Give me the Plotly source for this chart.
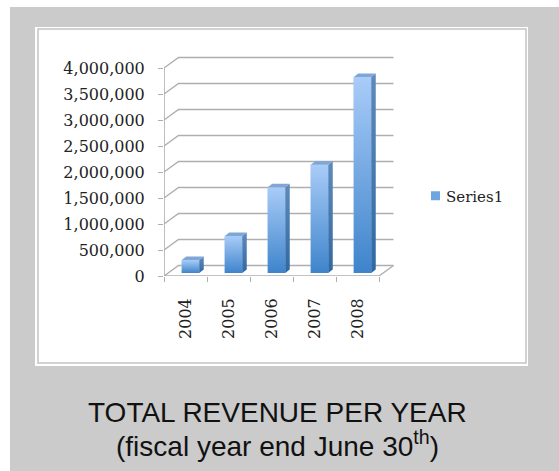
import plotly.graph_objects as go

years = ["2004", "2005", "2006", "2007", "2008"]
revenue = [250000, 711000, 1650000, 2080000, 3770000]
y_ticks = [0, 500000, 1000000, 1500000, 2000000, 2500000, 3000000, 3500000, 4000000]
y_labels = ["0", "500,000", "1,000,000", "1,500,000", "2,000,000", "2,500,000", "3,000,000", "3,500,000", "4,000,000"]
series_name = "Series1"

W, H = 559, 471
X0, X1 = 164, 379          # front floor edge, px
Y0, Y4 = 276, 68           # value 0 and 4M, px
RIGHT, TOP = 400, 50       # plot-area limits, px
n = len(years)
px_x = (X1 - X0) / n       # px per category
px_y = (Y0 - Y4) / y_ticks[-1]  # px per value
dx = lambda p: p / px_x
dy = lambda p: p / px_y

GRID = "#aeaeae"
TEXT = "#222222"
wall_dx, wall_dy = dx(14.5), dy(10.5)
left = -0.5
right = n - 0.5

fig = go.Figure()

# wall gridlines and floor, built from the axis ticks
gx, gy = [], []
for v in y_ticks:
    gx += [left, left + wall_dx, right + wall_dx, None]
    gy += [v, v + wall_dy, v + wall_dy, None]
gx += [left, right, right + wall_dx, None]
gy += [0, 0, wall_dy, None]
fig.add_trace(go.Scatter(x=gx, y=gy, mode="lines", line=dict(color=GRID, width=1.4),
                         hoverinfo="skip", showlegend=False))
# y axis line
fig.add_trace(go.Scatter(x=[left, left], y=[0, y_ticks[-1]], mode="lines",
                         line=dict(color=GRID, width=1.6), hoverinfo="skip", showlegend=False))

bar_w = dx(17.5)
shift_x = dx(5)
base_v = dy(3)
side_dx, side_dy = dx(4.5), dy(3.5)

# the bars themselves
fig.add_trace(go.Bar(x=list(range(n)), y=revenue, base=base_v, width=bar_w, offset=shift_x - bar_w / 2,
                     marker=dict(color="#6fa6e2", line=dict(width=0)), name=series_name, showlegend=True,
                     hoverinfo="skip"))

def poly(xs, ys, c_top, c_bot):
    fig.add_trace(go.Scatter(x=xs + xs[:1], y=ys + ys[:1], mode="lines", fill="toself",
                             line=dict(width=0), hoverinfo="skip", showlegend=False,
                             fillgradient=dict(type="vertical",
                                               colorscale=[[0, c_bot], [1, c_top]])))

for i, v in enumerate(revenue):
    xl = i + shift_x - bar_w / 2
    xr = xl + bar_w
    top = v + base_v
    poly([xl, xr, xr, xl], [base_v, base_v, top, top], "#a9ccf8", "#3e84cb")
    poly([xr, xr + side_dx, xr + side_dx, xr], [base_v, base_v + side_dy, top + side_dy, top], "#5f8abb", "#2f68a3")
    poly([xl, xr, xr + side_dx, xl + side_dx], [top, top, top + side_dy, top + side_dy], "#7fa6d4", "#7fa6d4")

fig.update_layout(
    width=W, height=H, margin=dict(l=0, r=0, t=0, b=0), autosize=False,
    paper_bgcolor="white", plot_bgcolor="rgba(0,0,0,0)",
    barmode="overlay",
    font=dict(family="DejaVu Serif", color=TEXT),
    xaxis=dict(domain=[X0 / W, RIGHT / W], range=[left, left + (RIGHT - X0) / px_x], automargin=False,
               tickmode="array", tickvals=list(range(n)), ticktext=years, tickangle=-90,
               ticks="", showgrid=False, zeroline=False, showline=False, ticklabelstandoff=18,
               tickfont=dict(size=16, family="DejaVu Serif", color=TEXT),
               minor=dict(tickmode="array", tickvals=[i - 0.5 for i in range(n + 1)], ticks="outside",
                          ticklen=5, tickwidth=1.4, tickcolor=GRID, showgrid=False)),
    yaxis=dict(domain=[1 - Y0 / H, 1 - TOP / H], range=[0, (Y0 - TOP) / px_y], automargin=False,
               tickmode="array", tickvals=y_ticks, ticktext=y_labels,
               ticks="outside", ticklen=5, tickwidth=1.4, tickcolor=GRID,
               showgrid=False, zeroline=False, showline=False, ticklabelstandoff=10,
               tickfont=dict(size=16, family="DejaVu Serif", color=TEXT)),
    legend=dict(x=406 / W, y=1 - 196 / H, xanchor="left", yanchor="middle",
                bgcolor="rgba(0,0,0,0)", font=dict(size=15, family="DejaVu Serif", color=TEXT),
                itemwidth=30),
    shapes=[
        dict(type="rect", xref="paper", yref="paper", x0=10 / W, x1=1, y0=0, y1=1 - 7 / H,
             fillcolor="#cbcbcb", line=dict(width=0), layer="below"),
        dict(type="rect", xref="paper", yref="paper", x0=35 / W, x1=528 / W, y0=1 - 366 / H, y1=1 - 27 / H,
             fillcolor="white", line=dict(width=0), layer="below"),
        dict(type="rect", xref="paper", yref="paper", x0=38 / W, x1=526 / W, y0=1 - 363 / H, y1=1 - 29 / H,
             fillcolor="white", line=dict(color="#c4c4c4", width=1.5), layer="below"),
    ],
    annotations=[
        dict(text="TOTAL REVENUE PER YEAR", xref="paper", yref="paper", x=277 / W, y=1 - 412 / H,
             xanchor="center", yanchor="middle", showarrow=False,
             font=dict(family="Liberation Sans", size=28, color="#111111")),
        dict(text="(fiscal year end June 30<sup>th</sup>)", xref="paper", yref="paper", x=277 / W, y=1 - 444 / H,
             xanchor="center", yanchor="middle", showarrow=False,
             font=dict(family="Liberation Sans", size=28, color="#111111")),
    ],
)

swatch_js = """
document.body.style.margin='0';document.body.style.overflow='hidden';
function fixSwatch(){document.querySelectorAll('.legend g.legendsymbols').forEach(function(e){
  e.setAttribute('transform','translate(14.5,0) scale(0.75)');});}
fixSwatch();setTimeout(fixSwatch,50);setTimeout(fixSwatch,300);
"""
fig.write_html("out.html", config={"displayModeBar": False}, post_script=swatch_js)
